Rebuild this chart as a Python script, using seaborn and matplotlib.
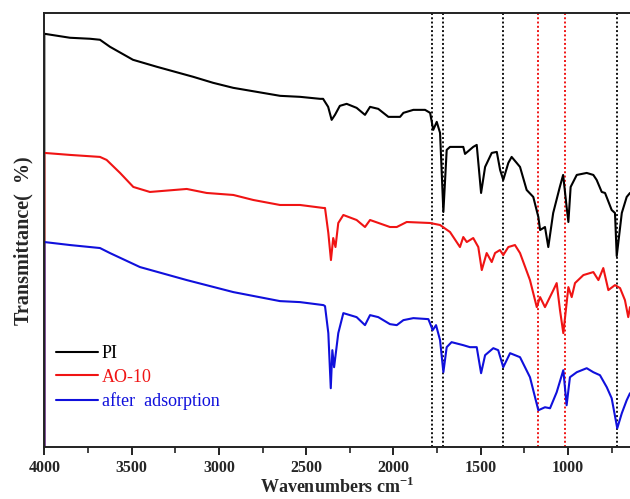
import matplotlib
matplotlib.use("Agg")
import matplotlib.pyplot as plt
import seaborn as sns
import pandas as pd
from matplotlib.lines import Line2D

# ---- data (transmittance in arbitrary offset units) ----
pi_wn = [4000, 4000, 3853, 3738, 3681, 3624, 3492, 3355, 3147, 3033, 2918, 2649, 2535, 2420, 2403,
         2374, 2354, 2335, 2307, 2268, 2211, 2163, 2134, 2087, 2029, 1991, 1962, 1943, 1886, 1819,
         1790, 1772, 1752, 1733, 1714, 1695, 1676, 1600, 1590, 1543, 1523, 1498, 1475, 1437, 1408,
         1389, 1371, 1342, 1323, 1294, 1275, 1237, 1199, 1170, 1160, 1132, 1113, 1085, 1047, 1028,
         1008, 998, 985, 950, 893, 855, 836, 807, 788, 750, 731, 721, 692, 664, 645]
pi_t = [0, 413, 409, 408, 407, 400, 387, 380, 370, 364, 359, 351, 350, 348, 348,
        340, 327, 332, 341, 343, 339, 332, 340, 338, 330, 330, 330, 334, 337, 337,
        334, 317, 325, 314, 235, 297, 300, 300, 293, 300, 302, 254, 280, 294, 295,
        277, 267, 284, 290, 284, 280, 257, 250, 230, 217, 220, 200, 234, 260, 272,
        240, 225, 260, 272, 274, 272, 267, 255, 254, 237, 234, 191, 234, 250, 254]

ao_wn = [4000, 4000, 3853, 3681, 3643, 3566, 3490, 3395, 3184, 3070, 2917, 2803, 2650, 2535, 2401,
         2392, 2373, 2358, 2345, 2332, 2316, 2287, 2211, 2163, 2134, 2020, 1981, 1924, 1790, 1733,
         1676, 1619, 1600, 1580, 1543, 1514, 1494, 1466, 1437, 1418, 1390, 1371, 1342, 1304, 1275,
         1218, 1179, 1160, 1132, 1084, 1065, 1046, 1027, 1008, 998, 979, 960, 912, 855, 826,
         798, 769, 731, 702, 674, 655, 645]
ao_t = [0, 294, 292, 290, 287, 274, 260, 255, 258, 254, 252, 247, 242, 242, 239,
        239, 214, 187, 209, 200, 224, 232, 227, 220, 227, 220, 220, 225, 224, 222,
        215, 200, 210, 205, 209, 200, 177, 194, 185, 194, 197, 192, 200, 202, 194,
        167, 140, 150, 140, 157, 164, 137, 114, 144, 160, 150, 164, 172, 175, 167,
        179, 157, 162, 159, 147, 130, 140]

ad_wn = [4000, 4000, 3853, 3681, 3624, 3452, 3184, 2917, 2650, 2535, 2401, 2392, 2373, 2359, 2350,
         2340, 2316, 2287, 2211, 2163, 2134, 2087, 2020, 1981, 1943, 1886, 1800, 1775, 1756, 1733,
         1714, 1695, 1667, 1600, 1562, 1523, 1498, 1475, 1428, 1400, 1371, 1332, 1275, 1218, 1170,
         1132, 1103, 1065, 1027, 1008, 989, 950, 893, 855, 817, 778, 750, 718, 692, 664, 645]
ad_t = [0, 205, 202, 199, 194, 180, 167, 155, 146, 145, 142, 141, 114, 59, 97,
        80, 114, 134, 130, 122, 132, 130, 123, 122, 127, 129, 128, 117, 122, 107,
        75, 100, 105, 102, 100, 100, 74, 92, 99, 97, 80, 94, 90, 70, 37,
        40, 39, 55, 77, 42, 70, 75, 79, 75, 72, 60, 49, 19, 34, 47, 54]

series_names = ["PI", "AO-10", "after  adsorption"]
series_colors = ["#000000", "#f01414", "#1010dc"]
black_lines = [1778, 1715, 1375, 720]
red_lines = [1170, 1020]

major_ticks = [4000, 3500, 3000, 2500, 2000, 1500, 1000]
minor_ticks = [3750, 3250, 2750, 2250, 1750, 1250, 750]

df = pd.concat([
    pd.DataFrame({"wn": pi_wn, "T": pi_t, "sample": series_names[0]}),
    pd.DataFrame({"wn": ao_wn, "T": ao_t, "sample": series_names[1]}),
    pd.DataFrame({"wn": ad_wn, "T": ad_t, "sample": series_names[2]}),
], ignore_index=True)

sns.set_theme(style="white")
plt.rcParams["font.family"] = ["Liberation Serif", "DejaVu Serif"]
plt.rcParams["mathtext.fontset"] = "custom"
plt.rcParams["mathtext.rm"] = "Liberation Serif"
plt.rcParams["mathtext.bf"] = "Liberation Serif:bold"

fig = plt.figure(figsize=(6.3, 4.99), dpi=100)
ax = fig.add_axes([0.0703, 0.1036, 0.9297, 0.8709])

sns.lineplot(data=df, x="wn", y="T", hue="sample", palette=series_colors,
             hue_order=series_names, sort=False, estimator=None, units="sample",
             linewidth=1.5, ax=ax, legend=False)

for w in black_lines:
    ax.axvline(w, color="#111111", linestyle=(0, (1.0, 1.2)), linewidth=1.4, zorder=1)
for w in red_lines:
    ax.axvline(w, color="#f01414", linestyle=(0, (1.0, 1.2)), linewidth=1.4, zorder=1)

ax.set_xlim(4000, 645)
ax.set_ylim(0, 434)
ax.set_xticks(major_ticks)
ax.set_xticklabels([str(t) for t in major_ticks], fontweight="bold", fontsize=11.5)
ax.set_xticks(minor_ticks, minor=True)
ax.set_yticks([])
ax.tick_params(axis="x", which="major", direction="out", length=6, width=1.4,
               bottom=True, color="#222222", pad=3)
ax.tick_params(axis="x", which="minor", direction="out", length=4, width=1.2,
               bottom=True, color="#222222")

for s in ["left", "bottom", "top"]:
    ax.spines[s].set_visible(True)
    ax.spines[s].set_color("#222222")
    ax.spines[s].set_linewidth(1.4)
ax.spines["right"].set_visible(False)

ax.set_xlabel("Wavenumbers cm$^{\\mathbf{-1}}$", fontsize=13, fontweight="bold", labelpad=1)
ax.set_ylabel("Transmittance(  %)", fontsize=14.5, fontweight="bold")
ax.yaxis.set_label_coords(-0.018, 0.475)

handles = [Line2D([], [], color=c, linewidth=1.5) for c in series_colors]
leg = ax.legend(handles, series_names, loc="lower left", bbox_to_anchor=(-0.008, 0.048),
                frameon=False, fontsize=13, handlelength=2.35, handletextpad=0.2,
                labelspacing=0.36)
for t, c in zip(leg.get_texts(), series_colors):
    t.set_color(c)

fig.savefig("out.png", dpi=100)
